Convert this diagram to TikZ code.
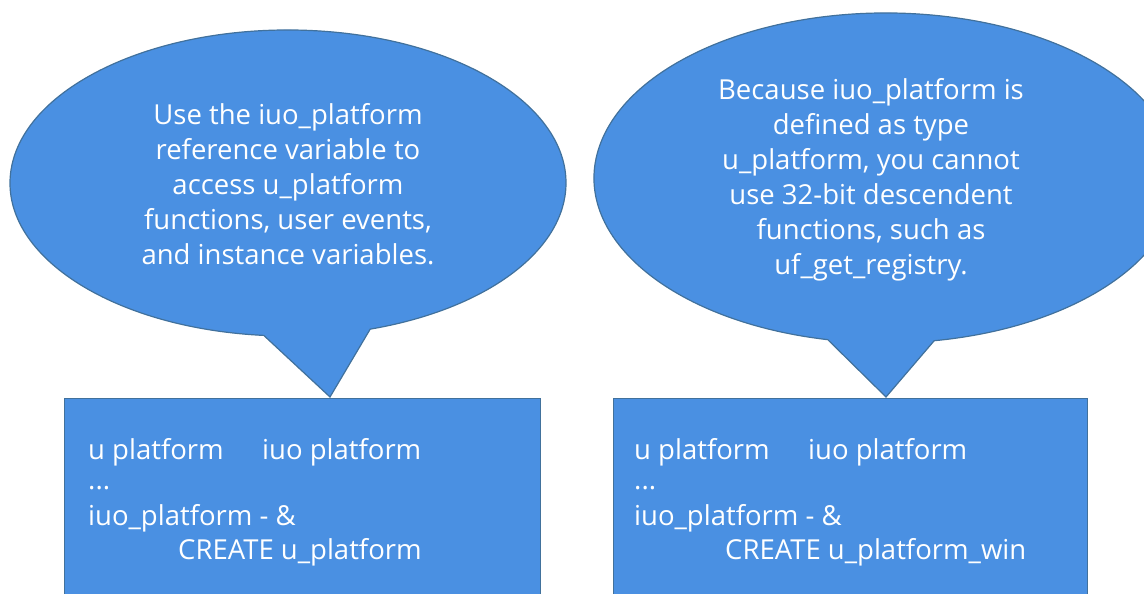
\documentclass[tikz,border=0pt]{standalone}
\usepackage{fontspec}
\setmainfont{Open Sans}
\usetikzlibrary{calc}
\definecolor{shapefill}{HTML}{4A90E2}
\definecolor{shapeline}{HTML}{41719C}
\tikzset{
  shapestyle/.style={fill=shapefill, draw=shapeline, line width=1.2pt, line join=miter},
  bubbletext/.style={text=white, align=center, font=\fontsize{27.5}{35}\selectfont, inner sep=0pt},
  codetext/.style={text=white, anchor=base west, font=\fontsize{27.5}{34}\selectfont, inner sep=0pt},
}
\begin{document}
\begin{tikzpicture}[x=1pt,y=1pt]
\useasboundingbox (0,0) rectangle (1144,594);
\clip (0,0) rectangle (1144,594);
% boxes
\node[shapestyle, rectangle, minimum width=476pt, minimum height=220pt, anchor=north west, inner sep=0pt] (boxL) at (64,196) {};
\node[shapestyle, rectangle, minimum width=474pt, minimum height=220pt, anchor=north west, inner sep=0pt] (boxR) at (613,196) {};
% callout tips
\coordinate (tipL) at (330,197);
\coordinate (tipR) at (886,197);
% left callout
\draw[shapestyle] (tipL) -- ($(288,411)+(265:278 and 153)$)
   arc[start angle=265, end angle=-72.8, x radius=278, y radius=153] -- cycle;
% right callout
\draw[shapestyle] (tipR) -- ($(886,416)+(258.5:292 and 165)$)
   arc[start angle=258.5, end angle=-80.5, x radius=292, y radius=165] -- cycle;
% callout texts
\node[bubbletext] (txtL) at (288,410) {Use the iuo\_platform\\reference variable to\\access u\_platform\\functions, user events,\\and instance variables.};
\node[bubbletext] (txtR) at (871,414) {Because iuo\_platform is\\defined as type\\u\_platform, you cannot\\use 32-bit descendent\\functions, such as\\uf\_get\_registry.};
% left box code
\node[codetext] (l1a) at (88,134) {u platform};
\node[codetext] (l1b) at (262,134) {iuo platform};
\node[codetext] (l2) at (88,104) {...};
\node[codetext] (l3) at (88,68) {iuo\_platform - \&};
\node[codetext] (l4) at (178,34) {CREATE u\_platform};
% right box code
\node[codetext] (r1a) at (634,134) {u platform};
\node[codetext] (r1b) at (808,134) {iuo platform};
\node[codetext] (r2) at (634,104) {...};
\node[codetext] (r3) at (634,68) {iuo\_platform - \&};
\node[codetext] (r4) at (725,34) {CREATE u\_platform\_win};
\end{tikzpicture}
\end{document}
